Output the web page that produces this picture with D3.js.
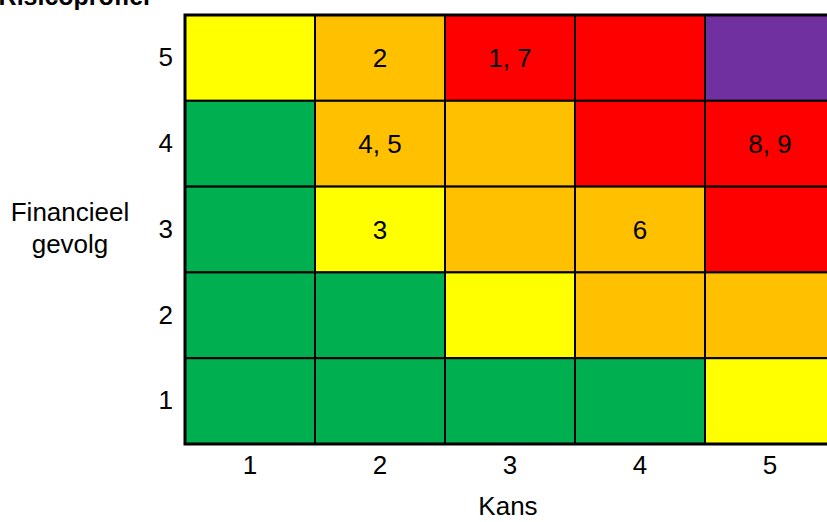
<!DOCTYPE html>
<html>
<head>
<meta charset="utf-8">
<script src="https://cdn.jsdelivr.net/npm/d3@7"></script>
<style>
  body { margin: 0; background: #fff; }
  svg { display: block; font-family: "Liberation Sans", Arial, sans-serif; }
</style>
</head>
<body>
<div id="container"></div>
<script>
  const kans = [1, 2, 3, 4, 5];
  const gevolg = [5, 4, 3, 2, 1];
  // risk level per row (gevolg 5 -> 1), per column (kans 1 -> 5)
  const levels = [
    ["geel", "oranje", "rood", "rood", "paars"],
    ["groen", "oranje", "oranje", "rood", "rood"],
    ["groen", "geel", "oranje", "oranje", "rood"],
    ["groen", "groen", "geel", "oranje", "oranje"],
    ["groen", "groen", "groen", "groen", "geel"]
  ];
  const risks = [
    { kans: 2, gevolg: 5, label: "2" },
    { kans: 3, gevolg: 5, label: "1, 7" },
    { kans: 2, gevolg: 4, label: "4, 5" },
    { kans: 5, gevolg: 4, label: "8, 9" },
    { kans: 2, gevolg: 3, label: "3" },
    { kans: 4, gevolg: 3, label: "6" }
  ];

  const width = 827, height = 522;
  const gridLeft = 185, gridRight = 835, gridTop = 15, gridBottom = 444;
  const fontSize = 26;

  const colors = d3.scaleOrdinal()
    .domain(["groen", "geel", "oranje", "rood", "paars"])
    .range(["#00B050", "#FFFF00", "#FFC000", "#FF0000", "#7030A0"]);

  const x = d3.scaleBand().domain(kans).range([gridLeft, gridRight]);
  const y = d3.scaleBand().domain(gevolg).range([gridTop, gridBottom]);

  const cells = [];
  gevolg.forEach((g, i) => kans.forEach((k, j) => cells.push({ kans: k, gevolg: g, level: levels[i][j] })));

  const svg = d3.select("#container").append("svg")
    .attr("width", width)
    .attr("height", height);

  svg.append("text")
    .attr("x", 150)
    .attr("y", 5)
    .attr("text-anchor", "end")
    .attr("font-weight", "bold")
    .attr("font-size", 25)
    .text("Risicoprofiel");

  svg.selectAll("rect.cell")
    .data(cells)
    .enter()
    .append("rect")
    .attr("class", "cell")
    .attr("x", d => x(d.kans))
    .attr("y", d => y(d.gevolg))
    .attr("width", x.bandwidth())
    .attr("height", y.bandwidth())
    .attr("fill", d => colors(d.level))
    .attr("stroke", "#000")
    .attr("stroke-width", 2);

  svg.append("rect")
    .attr("x", gridLeft)
    .attr("y", gridTop)
    .attr("width", gridRight - gridLeft)
    .attr("height", gridBottom - gridTop)
    .attr("fill", "none")
    .attr("stroke", "#000")
    .attr("stroke-width", 3);

  svg.selectAll("text.risk")
    .data(risks)
    .enter()
    .append("text")
    .attr("class", "risk")
    .attr("x", d => x(d.kans) + x.bandwidth() / 2)
    .attr("y", d => y(d.gevolg) + y.bandwidth() / 2)
    .attr("dy", "0.35em")
    .attr("text-anchor", "middle")
    .attr("font-size", fontSize)
    .attr("fill", "#000")
    .text(d => d.label);

  const xAxis = svg.append("g")
    .attr("transform", `translate(0, ${gridBottom})`)
    .call(d3.axisBottom(x).tickSize(0).tickPadding(12));
  const yAxis = svg.append("g")
    .attr("transform", `translate(${gridLeft}, 0)`)
    .call(d3.axisLeft(y).tickSize(0).tickPadding(12));
  [xAxis, yAxis].forEach(g => {
    g.select(".domain").remove();
    g.selectAll("text")
      .attr("font-family", "Liberation Sans, Arial, sans-serif")
      .attr("font-size", fontSize)
      .attr("fill", "#000");
  });

  svg.append("text")
    .attr("x", 508)
    .attr("y", 515)
    .attr("text-anchor", "middle")
    .attr("font-size", fontSize)
    .text("Kans");

  const yTitle = svg.append("text")
    .attr("text-anchor", "middle")
    .attr("font-size", fontSize);
  yTitle.append("tspan").attr("x", 70).attr("y", 221).text("Financieel");
  yTitle.append("tspan").attr("x", 70).attr("y", 253).text("gevolg");
</script>
</body>
</html>
